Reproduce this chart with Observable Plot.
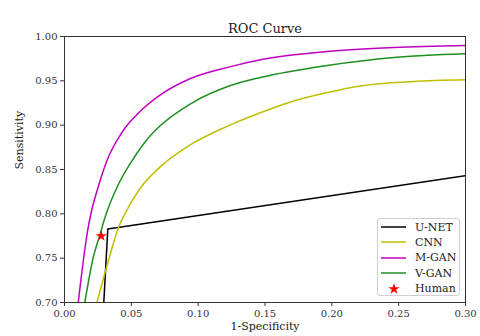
<!DOCTYPE html>
<html>
<head>
<meta charset="utf-8">
<script src="https://cdn.jsdelivr.net/npm/d3@7"></script>
<script src="https://cdn.jsdelivr.net/npm/@observablehq/plot@0.6"></script>
<style>
  body { margin: 0; background: white; }
  #wrap { position: relative; width: 480px; height: 336px; }
  #wrap svg text { font-family: "DejaVu Serif", serif; }
  #legend {
    position: absolute; left: 377px; top: 218px; width: 83px; height: 78px;
    border: 1px solid #d0d0d0; border-radius: 3px; background: rgba(255,255,255,0.85);
    font-family: "DejaVu Serif", serif; font-size: 11px; color: #222; box-sizing: border-box;
  }
  .row { position: absolute; left: 3px; height: 14px; display: flex; align-items: center; }
  .row svg { width: 26px; height: 14px; margin-right: 8px; }
</style>
</head>
<body>
<div id="wrap"><div id="legend"></div></div>
<script>
// ---- data ----
const xTicks = [0.00, 0.05, 0.10, 0.15, 0.20, 0.25, 0.30];
const yTicks = [0.70, 0.75, 0.80, 0.85, 0.90, 0.95, 1.00];

const unetX = [0.0294, 0.0324, 0.30];
const unetY = [0.700, 0.783, 0.843];

const cnnX = [0.0243, 0.0333, 0.0404, 0.0453, 0.0569, 0.0718, 0.0943, 0.1242, 0.1541, 0.1713, 0.1968, 0.2214, 0.2611, 0.30];
const cnnY = [0.700, 0.7496, 0.7846, 0.8004, 0.8294, 0.8532, 0.8780, 0.9004, 0.9183, 0.9272, 0.9369, 0.9443, 0.9493, 0.9512];

const mganX = [0.0103, 0.0142, 0.0176, 0.0198, 0.0251, 0.0318, 0.0359, 0.0397, 0.0457, 0.0546, 0.0722, 0.0943, 0.1242, 0.1466, 0.1965, 0.2464, 0.30];
const mganY = [0.700, 0.7485, 0.7835, 0.8004, 0.8297, 0.8602, 0.8737, 0.8838, 0.8977, 0.9125, 0.9346, 0.9526, 0.9660, 0.9738, 0.9831, 0.9876, 0.9898];

const vganX = [0.0152, 0.0213, 0.0262, 0.0312, 0.0393, 0.0506, 0.0556, 0.0643, 0.0718, 0.0943, 0.1242, 0.1466, 0.1965, 0.2464, 0.30];
const vganY = [0.700, 0.7493, 0.7749, 0.8000, 0.8300, 0.8601, 0.8714, 0.8883, 0.8996, 0.9241, 0.9447, 0.9538, 0.9673, 0.9763, 0.9805];

const humanX = [0.0275];
const humanY = [0.775];

const models = ["U-NET", "CNN", "M-GAN", "V-GAN"];
const colors = ["#000000", "#bfbf00", "#bf00bf", "#1f8f1f"];
const humanColor = "#ff0000";

// ---- build rows ----
const series = [[unetX, unetY], [cnnX, cnnY], [mganX, mganY], [vganX, vganY]];
const rows = series.flatMap(([xs, ys], i) => xs.map((x, j) => ({model: models[i], x, y: ys[j]})));
const human = humanX.map((x, i) => ({x, y: humanY[i]}));

const fmt = d3.format(".2f");
const chart = Plot.plot({
  width: 480, height: 336,
  marginTop: 36, marginLeft: 64, marginRight: 15, marginBottom: 34,
  style: {fontFamily: "'DejaVu Serif', serif", fontSize: "10px", background: "white", color: "#333"},
  x: {domain: [0, 0.30]},
  y: {domain: [0.70, 1.00]},
  color: {domain: models, range: colors},
  marks: [
    Plot.axisX({ticks: xTicks, tickFormat: fmt, tickSize: 4, tickPadding: 3, label: null, stroke: "#333", fill: "#333", fontFamily: "DejaVu Serif"}),
    Plot.axisY({ticks: yTicks, tickFormat: fmt, tickSize: 4, tickPadding: 3, label: null, stroke: "#333", fill: "#333", fontFamily: "DejaVu Serif"}),
    Plot.line(rows.filter(d => d.model === "U-NET"), {x: "x", y: "y", stroke: "model", strokeWidth: 1.5, clip: true}),
    Plot.line(rows.filter(d => d.model !== "U-NET"), {x: "x", y: "y", z: "model", stroke: "model", strokeWidth: 1.5, curve: "monotone-x", clip: true}),
    Plot.dot(human, {x: "x", y: "y", symbol: "star", fill: humanColor, r: 3.5}),
    Plot.frame({stroke: "#333", strokeWidth: 1}),
    Plot.text(["ROC Curve"], {frameAnchor: "top", lineAnchor: "bottom", dy: -4, fontSize: 13, fill: "#222"}),
    Plot.text(["1-Specificity"], {frameAnchor: "bottom", lineAnchor: "middle", dy: 24, fontSize: 11, fill: "#222"}),
    Plot.text(["Sensitivity"], {frameAnchor: "left", dx: -45, rotate: -90, fontSize: 11, fontFamily: "DejaVu Serif Condensed", fill: "#222"})
  ]
});
document.getElementById("wrap").prepend(chart);

// ---- legend ----
const legend = document.getElementById("legend");
const entries = models.map((m, i) => ({label: m, color: colors[i], type: "line"}))
  .concat([{label: "Human", color: humanColor, type: "star"}]);
entries.forEach((e, i) => {
  const row = document.createElement("div");
  row.className = "row";
  row.style.top = (1 + i * 15.4) + "px";
  const sw = e.type === "line"
    ? `<svg><line x1="0" x2="25" y1="7" y2="7" stroke="${e.color}" stroke-width="1.5"/></svg>`
    : `<svg><path transform="translate(13,7)" d="${d3.symbol(d3.symbolStar, 40)()}" fill="${e.color}"/></svg>`;
  row.innerHTML = sw + `<span>${e.label}</span>`;
  legend.appendChild(row);
});
</script>
</body>
</html>
